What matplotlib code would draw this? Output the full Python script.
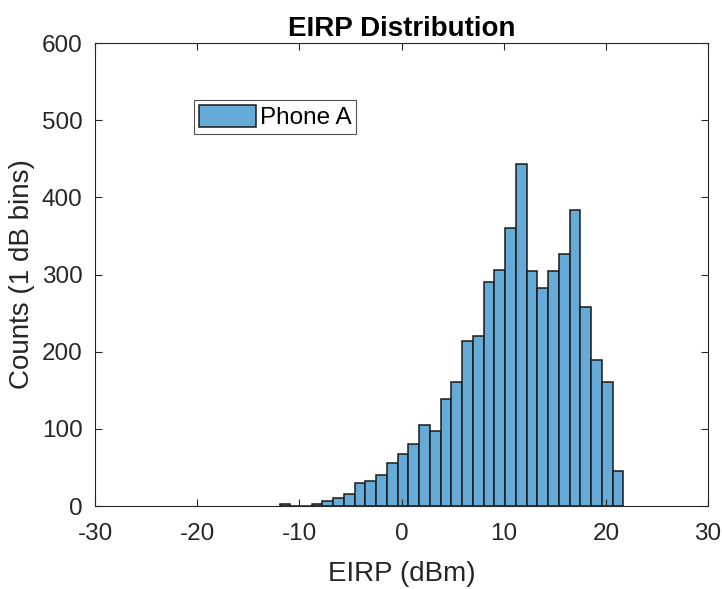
import numpy as np
import matplotlib
matplotlib.use('Agg')
import matplotlib.pyplot as plt

# EIRP histogram, counts per bin (left to right)
bin_start = -11.94
bin_stop = 21.71
counts = [2, 0, 0, 2, 7, 10, 15, 30, 33, 40, 56, 68, 80, 105, 97, 139,
          161, 214, 220, 290, 306, 360, 443, 304, 282, 304, 327, 384,
          258, 189, 161, 46]
series_name = 'Phone A'

x_ticks = [-30, -20, -10, 0, 10, 20, 30]
y_ticks = [0, 100, 200, 300, 400, 500, 600]

plt.rcParams['font.family'] = ['Liberation Sans', 'DejaVu Sans']
plt.rcParams['axes.unicode_minus'] = False
axis_color = '#262626'

edges = np.linspace(bin_start, bin_stop, len(counts) + 1)

fig = plt.figure(figsize=(7.22, 5.89), dpi=100)
ax = fig.add_axes([0.1316, 0.1409, 0.849, 0.786])

ax.bar(edges[:-1], counts, width=np.diff(edges), align='edge',
       color='#66aad7', edgecolor='#1a1a1a', linewidth=1.1,
       label=series_name)

ax.set_xlim(-30, 30)
ax.set_ylim(0, 600)
ax.set_xticks(x_ticks)
ax.set_yticks(y_ticks)
ax.tick_params(direction='in', top=True, right=True, length=5,
               width=0.8, colors=axis_color, labelsize=17.5)
ax.tick_params(axis='x', pad=12.5)
ax.tick_params(axis='y', pad=9)
for spine in ax.spines.values():
    spine.set_color(axis_color)
    spine.set_linewidth(0.8)

ax.set_title('EIRP Distribution', fontsize=20, fontweight='bold',
             color='black', pad=5)
ax.set_xlabel('EIRP (dBm)', fontsize=20, color=axis_color, labelpad=11)
ax.set_ylabel('Counts (1 dB bins)', fontsize=20, color=axis_color,
              labelpad=5)

leg = ax.legend(loc='upper left', bbox_to_anchor=(0.1615, 0.877),
                fontsize=17.5, frameon=True, fancybox=False,
                handlelength=2.35, handleheight=1.0, handletextpad=0.15,
                borderpad=0.2, borderaxespad=0)
leg.get_frame().set_edgecolor(axis_color)
leg.get_frame().set_linewidth(0.8)

fig.savefig('out.png', dpi=100)
